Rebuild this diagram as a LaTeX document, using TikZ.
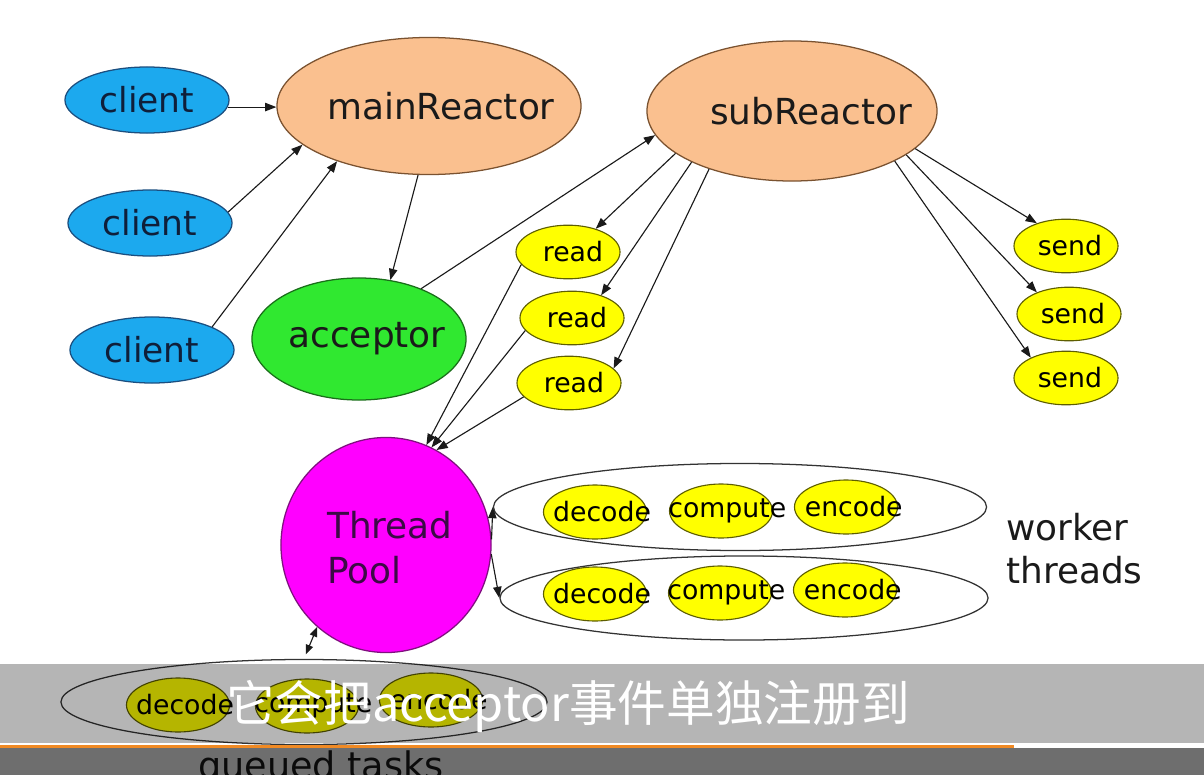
\documentclass[tikz,border=0pt]{standalone}
\usepackage{fontspec}
\setsansfont{DejaVu Sans}
\newfontfamily\cjkFont{Noto Sans CJK SC}
\usetikzlibrary{shapes.geometric,arrows.meta}
\definecolor{clientFill}{HTML}{1CA9EE}
\definecolor{clientStroke}{HTML}{1B4F80}
\definecolor{clientText}{HTML}{0F1F3A}
\definecolor{reactorFill}{HTML}{FAC08F}
\definecolor{reactorStroke}{HTML}{7A5230}
\definecolor{acceptorFill}{HTML}{30E830}
\definecolor{acceptorStroke}{HTML}{1A6E1A}
\definecolor{poolFill}{HTML}{FF00FF}
\definecolor{poolStroke}{HTML}{80107F}
\definecolor{poolText}{HTML}{3C0A46}
\definecolor{taskFill}{HTML}{FFFF00}
\definecolor{taskStroke}{HTML}{5E5E00}
\definecolor{textMain}{HTML}{1A1A1A}
\definecolor{arrowColor}{HTML}{1A1A1A}
\definecolor{barOrange}{HTML}{F08A24}

% text centred on a node, optionally pushed right by #1
\newcommand{\inText}[2][0pt]{\makebox[0pt]{\hspace*{#1}\hspace*{#1}#2}}

\begin{document}
\begin{tikzpicture}[
    x=0.025cm, y=-0.025cm,
    font=\sffamily,
    bigFont/.style={font=\sffamily\fontsize{25}{32}\selectfont, text=textMain},
    clientNode/.style={
        ellipse, draw=clientStroke, line width=0.9pt,
        fill=clientFill, inner sep=0pt,
        minimum width=4.1cm, minimum height=1.65cm,
        text=clientText, font=\sffamily\fontsize{24.5}{30}\selectfont
    },
    reactorNode/.style={
        ellipse, draw=reactorStroke, line width=0.9pt,
        fill=reactorFill, inner sep=0pt,
        text=textMain, font=\sffamily\fontsize{25.5}{30}\selectfont
    },
    acceptorNode/.style={
        ellipse, draw=acceptorStroke, line width=0.9pt,
        fill=acceptorFill, inner sep=0pt,
        minimum width=5.35cm, minimum height=3.05cm,
        text=textMain, font=\sffamily\fontsize{25.5}{30}\selectfont
    },
    poolNode/.style={
        ellipse, draw=poolStroke, line width=0.9pt,
        fill=poolFill, inner sep=0pt,
        minimum width=5.25cm, minimum height=5.375cm,
        text=poolText, font=\sffamily\fontsize{25.5}{32}\selectfont
    },
    eventNode/.style={
        ellipse, draw=taskStroke, line width=0.8pt,
        fill=taskFill, inner sep=0pt,
        minimum width=2.6cm, minimum height=1.34cm,
        text=black, font=\sffamily\fontsize{19}{23}\selectfont
    },
    taskNode/.style={
        ellipse, draw=taskStroke, line width=0.8pt,
        fill=taskFill, inner sep=0pt,
        minimum width=2.575cm, minimum height=1.35cm,
        text=black, font=\sffamily\fontsize{19}{23}\selectfont
    },
    groupNode/.style={ellipse, draw=black!80, line width=0.9pt, inner sep=0pt},
    flow/.style={-{Triangle[length=2.8mm,width=2.1mm]}, line width=0.8pt, draw=arrowColor},
    biFlow/.style={{Triangle[length=2.4mm,width=1.9mm]}-{Triangle[length=2.4mm,width=1.9mm]},
        line width=0.8pt, draw=arrowColor, shorten >=1.2mm}
]
\useasboundingbox (0,0) rectangle (1204,775);

% clients and reactors
\node[clientNode] (client1) at (147,100) {\inText{client}};
\node[clientNode] (client2) at (150,223) {\inText{client}};
\node[clientNode] (client3) at (152,350) {\inText{client}};
\node[reactorNode, minimum width=7.6cm, minimum height=3.425cm] (mainReactor) at (429,106)
  {\inText[8.5pt]{mainReactor}};
\node[reactorNode, minimum width=7.25cm, minimum height=3.5cm] (subReactor) at (792,111)
  {\inText[13.5pt]{subReactor}};
\node[acceptorNode] (acceptor) at (359,339) {\inText[5.7pt]{acceptor}};

% read / send events
\node[eventNode] (read1) at (568,252) {\inText[3.5pt]{read}};
\node[eventNode] (read2) at (572,318) {\inText[3.5pt]{read}};
\node[eventNode] (read3) at (569,383) {\inText[3.5pt]{read}};
\node[eventNode] (send1) at (1066,246) {\inText[2.8pt]{send}};
\node[eventNode] (send2) at (1069,314) {\inText[2.8pt]{send}};
\node[eventNode] (send3) at (1066,378) {\inText[2.8pt]{send}};

% thread pool and its threads
\node[poolNode] (pool) at (386,545)
  {\inText[2.8pt]{\smash{\raisebox{-11pt}{\begin{tabular}{@{}l@{}}Thread\\Pool\end{tabular}}}}};
\node[groupNode, minimum width=12.325cm, minimum height=2.175cm] (worker1) at (740,507) {};
\node[groupNode, minimum width=12.2cm, minimum height=2.1cm] (worker2) at (744,598) {};
\node[groupNode, minimum width=12.15cm, minimum height=2.125cm] (queue) at (304,702) {};

\node[taskNode] (decode1) at (595,512) {\inText[5pt]{decode}};
\node[taskNode] (compute1) at (721,511) {\inText[4.5pt]{compute}};
\node[taskNode] (encode1) at (846,507) {\inText[5.5pt]{encode}};
\node[taskNode] (decode2) at (595,594) {\inText[5pt]{decode}};
\node[taskNode] (compute2) at (720,593) {\inText[4.5pt]{compute}};
\node[taskNode] (encode2) at (845,590) {\inText[5.5pt]{encode}};
\node[taskNode] (decodeQ) at (178,705) {\inText[5pt]{decode}};
\node[taskNode] (computeQ) at (307,706) {\inText[4.5pt]{compute}};
\node[taskNode] (encodeQ) at (431,700) {\inText[5.5pt]{encode}};

\node[bigFont, font=\sffamily\fontsize{25.5}{30.5}\selectfont, align=left, anchor=north west, inner sep=0pt]
  (workerLabel) at (1006,513) {worker\\threads};
\node[bigFont, font=\sffamily\fontsize{26}{32}\selectfont, anchor=base west, inner sep=0pt]
  (queueLabel) at (198,778) {queued tasks};

% connectors
\draw[flow] (client1.-5) -- (client1.-5 -| mainReactor.west);
\draw[flow] (client2.8) -- (mainReactor.197);
\draw[flow] (client3.21) -- (mainReactor.211);
\draw[flow] (mainReactor.261) -- (acceptor.62);
\draw[flow] (acceptor.39) -- (subReactor.190);
\draw[flow] (subReactor.200) -- (read1.40);
\draw[flow] (subReactor.207) -- (read2.38);
\draw[flow] (subReactor.215) -- (read3.18);
\draw[flow] (read1.195) -- (pool.68);
\draw[flow] (read2.195) -- (pool.65);
\draw[flow] (read3.197) -- (pool.62);
\draw[flow] (subReactor.-17) -- (send1.142);
\draw[flow] (subReactor.-21) -- (send2.146);
\draw[flow] (subReactor.-26) -- (send3.150);
\draw[flow] (pool.3) -- (worker1.west);
\draw[flow] (pool.-5) -- (worker2.west);
\draw[biFlow] (pool.230) -- (queue.north);

% video caption bars
\fill[black, opacity=0.29] (0,664) rectangle (1204,743);
\fill[barOrange] (0,745) rectangle (1014,747.5);
\fill[black, opacity=0.57] (0,748) rectangle (1204,775);
\node[font=\cjkFont\fontsize{34.6}{40}\selectfont, text=white, anchor=base, inner sep=0pt]
  (caption) at (568,721) {它会把acceptor事件单独注册到};

\end{tikzpicture}
\end{document}
